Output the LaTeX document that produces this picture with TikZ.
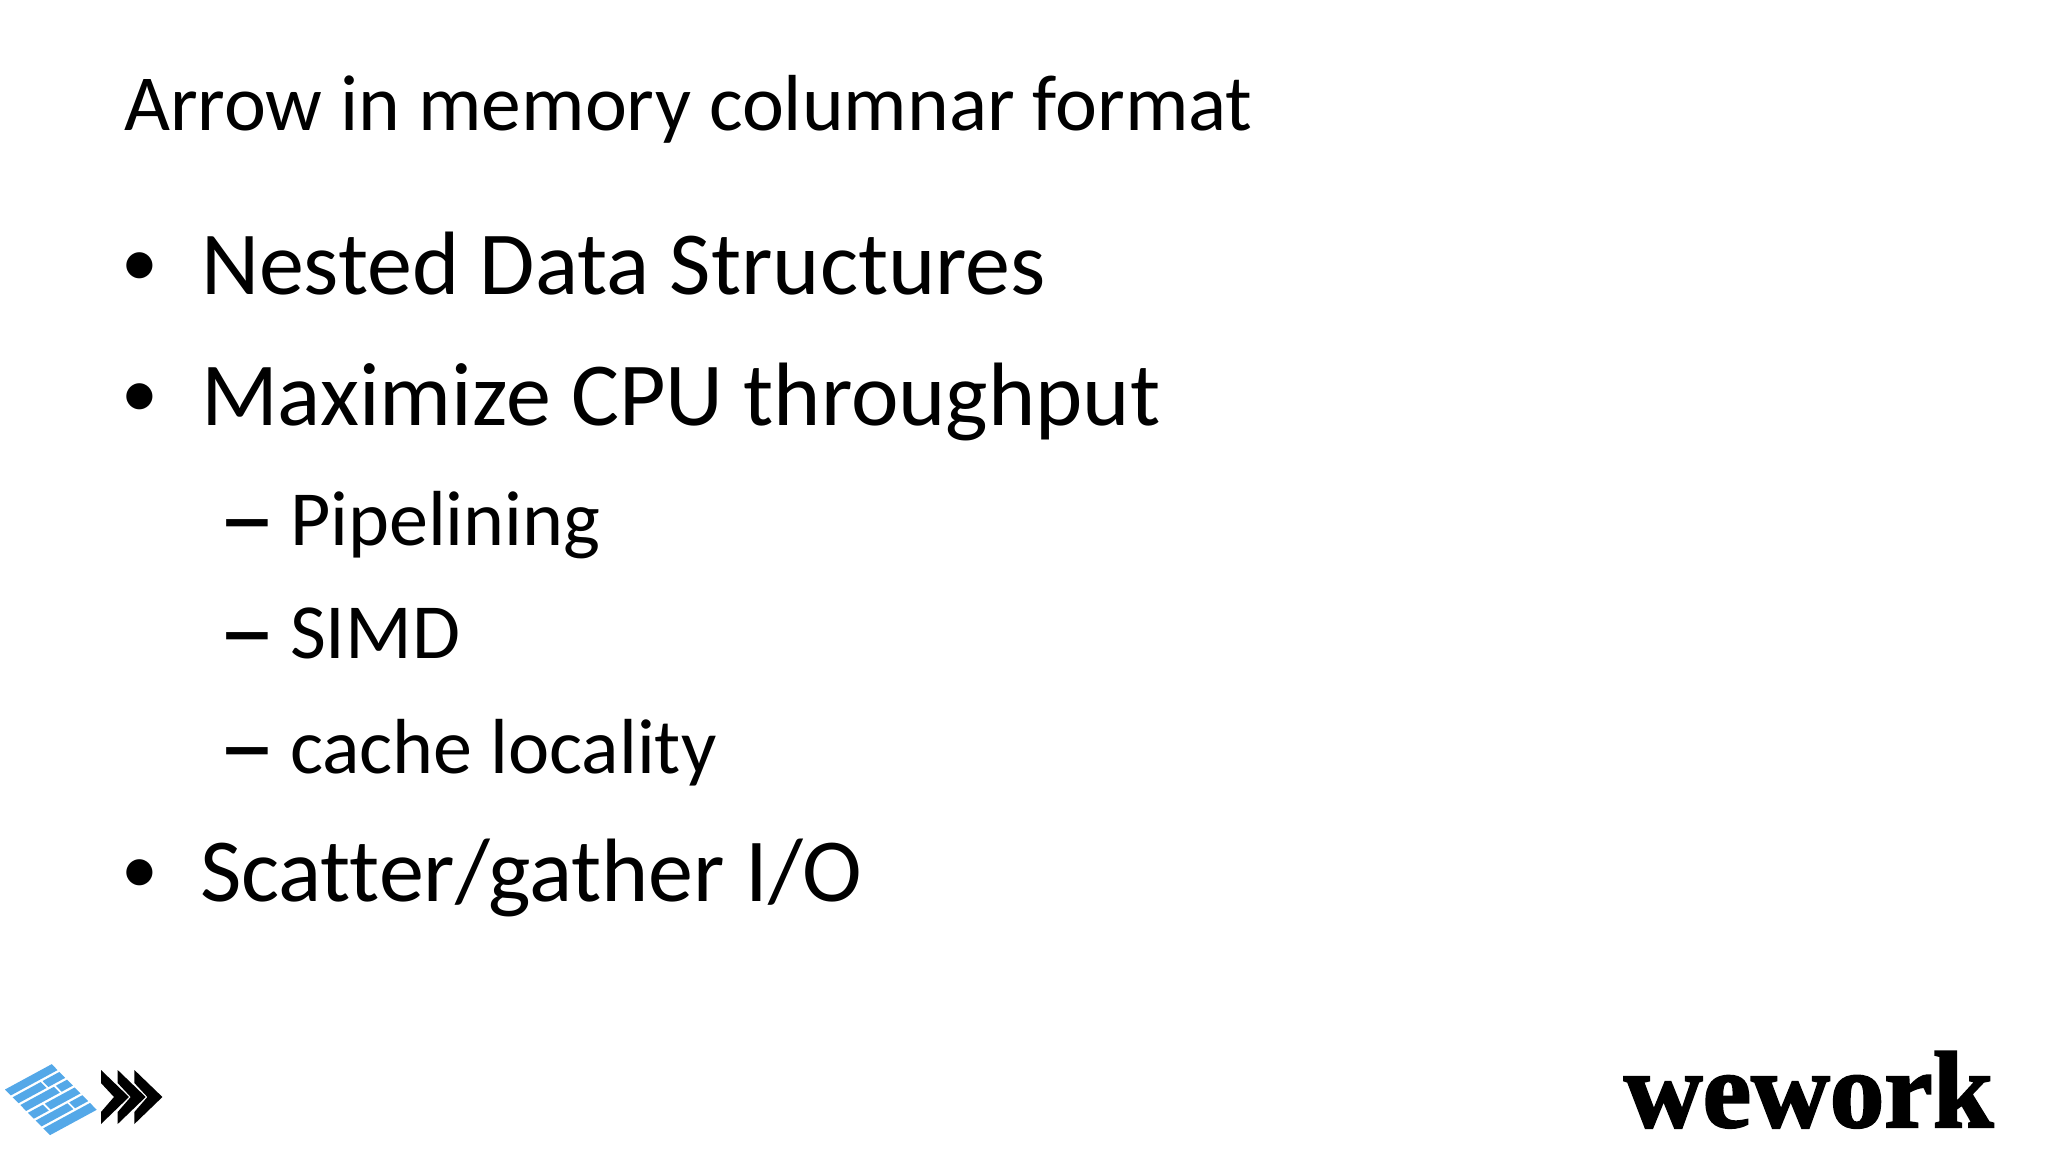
\documentclass[tikz,border=0pt]{standalone}
\usepackage{fontspec}
\setmainfont{Carlito}[Ligatures=NoCommon]
\newfontfamily\logofont[FakeBold=2]{Liberation Serif Bold}
\usetikzlibrary{positioning}
\definecolor{logoblue}{RGB}{84,168,232}
\tikzset{x=0.01cm, y=-0.01cm, inner sep=0pt, outer sep=0pt}
\tikzstyle{title} = [anchor=base west, font=\fontsize{22.6}{22.6}\selectfont]
\tikzstyle{item} = [anchor=base west, font=\fontsize{25.6}{25.6}\selectfont]
\tikzstyle{subitem} = [anchor=base west, font=\fontsize{22.2}{22.2}\selectfont]
\tikzstyle{bullet} = [anchor=base west, font=\fontsize{21}{21}\selectfont]
\tikzstyle{dashmark} = [anchor=base west, font=\fontsize{33}{33}\selectfont]
\tikzstyle{brick} = [fill=logoblue, draw=none]
\tikzstyle{chevron} = [fill=black, draw=none]
\begin{document}
\begin{tikzpicture}
    \useasboundingbox (0,0) rectangle (2048,1152);
    \node [title] (head) at (124,131) {Arrow in memory columnar format};

    \node [bullet] (dot_a) at (121,287) {•};
    \node [item] (nested) at (201,295) {Nested Data Structures};
    \node [bullet] (dot_b) at (121,418) {•};
    \node [item] (maximize) at (201,426) {Maximize CPU throughput};
    \node [dashmark] (dash_a) at (218,555) {–};
    \node [subitem] (pipe) at (290,545) {Pipelining};
    \node [dashmark] (dash_b) at (218,668) {–};
    \node [subitem] (simd) at (290,658) {SIMD};
    \node [dashmark] (dash_c) at (218,783) {–};
    \node [subitem] (cache) at (290,773) {cache locality};
    \node [bullet] (dot_c) at (121,893) {•};
    \node [item] (scatter) at (200,901) {Scatter/gather I/O};

    % blue logo, bars in the skewed frame of the square
    \begin{scope}[shift={(5,1089.5)}, x={(0.004667cm,0.002533cm)}, y={(0.0045cm,-0.004567cm)}]
        \foreach \va/\vb/\ua/\ub in {0/13/0/100, 17/30/0/60, 17/30/64/100, 34/47/0/72, 34/47/76/100,
            51/64/0/32, 51/64/36/100, 68/81/0/68, 68/81/72/100, 85/100/0/100}
            \fill [brick] (\ua,\va) -- (\ub,\va) -- (\ub,\vb) -- (\ua,\vb) -- cycle;
    \end{scope}

    % three black arrows of the logo
    \foreach \dx in {0,16.7,33.4}
        \fill [chevron, shift={(\dx,0)}] (101,1070) -- (129,1097) -- (101,1124) -- (101,1112) -- (114,1097) -- (101,1083) -- cycle;

    \node [anchor=base west, font=\logofont\fontsize{31}{31}\selectfont] (wework) at (1624,1127) {wework};
\end{tikzpicture}
\end{document}
